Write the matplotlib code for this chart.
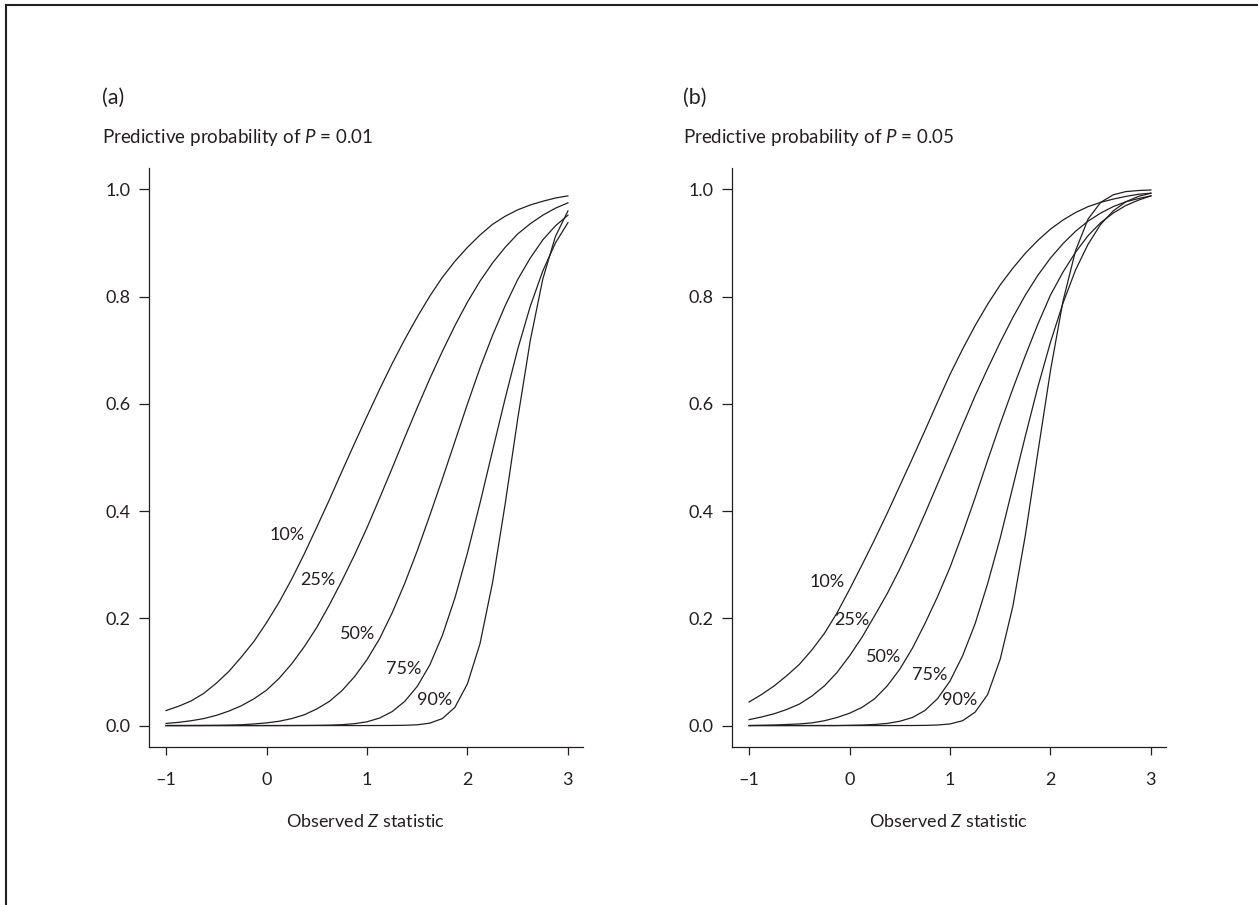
import matplotlib
matplotlib.use("Agg")
import matplotlib.pyplot as plt
from matplotlib.lines import Line2D

plt.rcParams['font.family'] = ['Lato', 'DejaVu Sans']
plt.rcParams['mathtext.fontset'] = 'custom'
plt.rcParams['mathtext.rm'] = 'Lato'
plt.rcParams['mathtext.it'] = 'Lato:italic'

# observed Z statistic, values every 0.125
z = [-1, -0.875, -0.75, -0.625, -0.5, -0.375, -0.25, -0.125,
     0, 0.125, 0.25, 0.375, 0.5, 0.625, 0.75, 0.875,
     1, 1.125, 1.25, 1.375, 1.5, 1.625, 1.75, 1.875,
     2, 2.125, 2.25, 2.375, 2.5, 2.625, 2.75, 2.875, 3]

# panel (a): P = 0.01
p10_a = [0.028, 0.036, 0.046, 0.060, 0.079, 0.101, 0.128, 0.157,
         0.192, 0.230, 0.273, 0.320, 0.370, 0.421, 0.474, 0.526,
         0.577, 0.627, 0.675, 0.720, 0.762, 0.801, 0.836, 0.866,
         0.892, 0.915, 0.935, 0.950, 0.962, 0.971, 0.978, 0.984, 0.988]
p25_a = [0.004, 0.006, 0.009, 0.013, 0.019, 0.027, 0.037, 0.050,
         0.066, 0.088, 0.115, 0.147, 0.183, 0.225, 0.270, 0.318,
         0.369, 0.424, 0.480, 0.537, 0.593, 0.647, 0.698, 0.746,
         0.790, 0.829, 0.863, 0.892, 0.917, 0.936, 0.952, 0.965, 0.975]
p50_a = [0.0, 0.0, 0.0001, 0.0002, 0.0004, 0.0008, 0.0015, 0.003,
         0.005, 0.008, 0.013, 0.020, 0.031, 0.045, 0.065, 0.091,
         0.123, 0.162, 0.210, 0.265, 0.326, 0.392, 0.460, 0.530,
         0.600, 0.667, 0.728, 0.783, 0.832, 0.872, 0.906, 0.932, 0.952]
p75_a = [0, 0, 0, 0, 0, 0, 0, 0,
         0, 0, 0.0001, 0.0002, 0.0004, 0.0008, 0.0016, 0.0035,
         0.007, 0.014, 0.026, 0.045, 0.073, 0.113, 0.168, 0.238,
         0.322, 0.415, 0.513, 0.610, 0.702, 0.782, 0.848, 0.900, 0.938]
p90_a = [0, 0, 0, 0, 0, 0, 0, 0,
         0, 0, 0, 0, 0, 0, 0, 0,
         0, 0.0001, 0.0002, 0.0005, 0.0014, 0.0045, 0.013, 0.034,
         0.078, 0.153, 0.267, 0.413, 0.572, 0.718, 0.833, 0.912, 0.960]

# panel (b): P = 0.05
p10_b = [0.044, 0.058, 0.074, 0.093, 0.114, 0.141, 0.172, 0.210,
         0.254, 0.300, 0.347, 0.396, 0.447, 0.498, 0.550, 0.603,
         0.655, 0.702, 0.746, 0.786, 0.822, 0.853, 0.881, 0.905,
         0.926, 0.943, 0.957, 0.968, 0.976, 0.982, 0.987, 0.991, 0.993]
p25_b = [0.011, 0.016, 0.022, 0.030, 0.040, 0.055, 0.074, 0.099,
         0.130, 0.165, 0.205, 0.246, 0.292, 0.342, 0.395, 0.450,
         0.505, 0.560, 0.615, 0.666, 0.715, 0.761, 0.803, 0.840,
         0.872, 0.899, 0.922, 0.941, 0.956, 0.968, 0.977, 0.983, 0.988]
p50_b = [0.0, 0.0005, 0.001, 0.002, 0.003, 0.005, 0.009, 0.015,
         0.023, 0.034, 0.050, 0.074, 0.105, 0.144, 0.190, 0.240,
         0.295, 0.358, 0.425, 0.495, 0.563, 0.628, 0.690, 0.749,
         0.803, 0.846, 0.883, 0.914, 0.938, 0.956, 0.970, 0.980, 0.988]
p75_b = [0, 0, 0, 0, 0, 0, 0, 0,
         0.0005, 0.001, 0.002, 0.004, 0.008, 0.015, 0.028, 0.050,
         0.083, 0.130, 0.190, 0.265, 0.350, 0.445, 0.540, 0.632,
         0.715, 0.788, 0.850, 0.898, 0.935, 0.960, 0.977, 0.987, 0.993]
p90_b = [0, 0, 0, 0, 0, 0, 0, 0,
         0, 0, 0, 0, 0, 0.0001, 0.0003, 0.001,
         0.003, 0.009, 0.025, 0.058, 0.124, 0.222, 0.355, 0.510,
         0.662, 0.792, 0.886, 0.945, 0.976, 0.990, 0.996, 0.998, 0.999]

pct_labels = ['10%', '25%', '50%', '75%', '90%']
xtick_vals = [-1, 0, 1, 2, 3]
xtick_text = ['\u20131', '0', '1', '2', '3']
ytick_vals = [0, 0.2, 0.4, 0.6, 0.8, 1.0]
ytick_text = ['0.0', '0.2', '0.4', '0.6', '0.8', '1.0']

ink = '#231f20'
W, H = 1258, 905

panels = [
    dict(tag='(a)', title='Predictive probability of $P$ = 0.01', left=149, textx=102,
         curves=[p10_a, p25_a, p50_a, p75_a, p90_a],
         labpos=[(0.38, 0.355), (0.69, 0.272), (1.08, 0.171), (1.54, 0.105), (1.85, 0.048)]),
    dict(tag='(b)', title='Predictive probability of $P$ = 0.05', left=732, textx=683,
         curves=[p10_b, p25_b, p50_b, p75_b, p90_b],
         labpos=[(-0.05, 0.268), (0.20, 0.197), (0.51, 0.128), (0.97, 0.094), (1.27, 0.048)]),
]

fig = plt.figure(figsize=(W / 100, H / 100), dpi=100)

for p in panels:
    ax = fig.add_axes([p['left'] / W, 1 - 747 / H, 434 / W, 579 / H])
    for pp in p['curves']:
        ax.plot(z, pp, color=ink, lw=0.9)
    for lab, (tx, ty) in zip(pct_labels, p['labpos']):
        ax.text(tx, ty, lab, ha='right', va='center', fontsize=13, color=ink)
    ax.set_xlim(-1.17, 3.15)
    ax.set_ylim(-0.04, 1.04)
    ax.set_xticks(xtick_vals)
    ax.set_xticklabels(xtick_text)
    ax.set_yticks(ytick_vals)
    ax.set_yticklabels(ytick_text)
    ax.tick_params(axis='both', direction='out', labelsize=13, colors=ink, width=0.9)
    ax.tick_params(axis='x', length=6, pad=12)
    ax.tick_params(axis='y', length=7, pad=6)
    for s in ['top', 'right']:
        ax.spines[s].set_visible(False)
    for s in ['left', 'bottom']:
        ax.spines[s].set_color(ink)
        ax.spines[s].set_linewidth(0.9)
    ax.set_xlabel('Observed $Z$ statistic', fontsize=13, color=ink, labelpad=18)
    fig.text(p['textx'] / W, 1 - 98 / H, p['tag'], ha='left', va='center', fontsize=15.5, color=ink)
    fig.text(p['textx'] / W, 1 - 138 / H, p['title'], ha='left', va='center', fontsize=13.5, color=ink)

# frame (top and left edges only)
fig.add_artist(Line2D([6 / W, 6 / W], [0, 1 - 5 / H], transform=fig.transFigure, color=ink, lw=1.5))
fig.add_artist(Line2D([6 / W, 1], [1 - 5 / H, 1 - 5 / H], transform=fig.transFigure, color=ink, lw=1.5))

fig.savefig('out.png', dpi=100)
